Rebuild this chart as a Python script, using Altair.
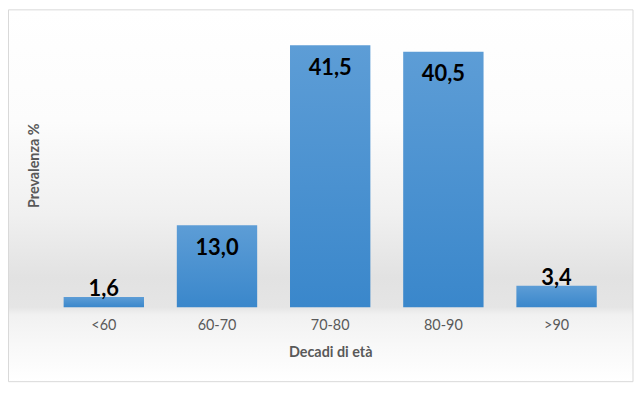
import altair as alt
import pandas as pd

categories = ["<60", "60-70", "70-80", "80-90", ">90"]
values = [1.6, 13.0, 41.5, 40.5, 3.4]
labels = ["1,6", "13,0", "41,5", "40,5", "3,4"]

df = pd.DataFrame({"decade": categories, "value": values, "label": labels})

W, H = 570, 286

bg_gradient = alt.Gradient(
    gradient="linear", x1=0, y1=0, x2=0, y2=1,
    stops=[
        alt.GradientStop(color="#ffffff", offset=0.0),
        alt.GradientStop(color="#fcfcfc", offset=0.30),
        alt.GradientStop(color="#f0f0f0", offset=0.55),
        alt.GradientStop(color="#e2e2e2", offset=0.72),
        alt.GradientStop(color="#e5e5e5", offset=0.80),
        alt.GradientStop(color="#f1f1f1", offset=0.82),
        alt.GradientStop(color="#f8f8f8", offset=0.90),
        alt.GradientStop(color="#ffffff", offset=1.0),
    ],
)

background = alt.Chart(alt.Data(values=[{"a": 1}])).mark_rect(
    fill=bg_gradient, stroke="#d9d9d9", strokeWidth=1
).encode(
    x=alt.value(-39), x2=alt.value(590), y=alt.value(-13.5), y2=alt.value(361)
)

bar_gradient = alt.Gradient(
    gradient="linear", x1=0, y1=0, x2=0, y2=1,
    stops=[
        alt.GradientStop(color="#5d9dd6", offset=0.0),
        alt.GradientStop(color="#3a87cb", offset=1.0),
    ],
)

x_enc = alt.X(
    "decade:N", sort=categories,
    scale=alt.Scale(paddingInner=0.29, paddingOuter=0.145),
    axis=alt.Axis(
        title="Decadi di età", labelAngle=0, ticks=False, domain=False, zindex=2,
        labelFont="Lato", labelFontSize=14.5, labelColor="#595959", labelPadding=11,
        titleFont="Lato", titleFontSize=14.5, titleFontWeight="bold", titleColor="#595959",
        titlePadding=14,
    ),
)
y_enc = alt.Y(
    "value:Q", scale=alt.Scale(domain=[0, 45], nice=False),
    axis=alt.Axis(
        title="Prevalenza %", labels=False, ticks=False, domain=False, grid=False, zindex=2,
        titleFont="Lato", titleFontSize=14.5, titleFontWeight="bold", titleColor="#595959",
        titleX=-12.5, titleY=143, titleAngle=-90, titleBaseline="middle", titleAlign="center",
    ),
)

base = alt.Chart(df).encode(x=x_enc, y=y_enc)

bars = base.mark_bar(fill=bar_gradient)

inside = base.transform_filter(alt.datum.value >= 10).mark_text(
    baseline="top", dy=13, font="Lato", fontSize=22, fontWeight="bold", color="#000000"
).encode(text="label:N")

above = base.transform_filter(alt.datum.value < 10).mark_text(
    baseline="bottom", dy=4, font="Lato", fontSize=22, fontWeight="bold", color="#000000"
).encode(text="label:N")

chart = alt.layer(background, bars, inside, above).properties(
    width=W, height=H,
    autosize=alt.AutoSizeParams(type="none"),
    padding={"left": 39.5, "top": 14, "right": 22, "bottom": 77},
    background="#ffffff",
).configure_view(stroke=None)

chart.save("out.html", embed_options={"renderer": "svg", "actions": False})
